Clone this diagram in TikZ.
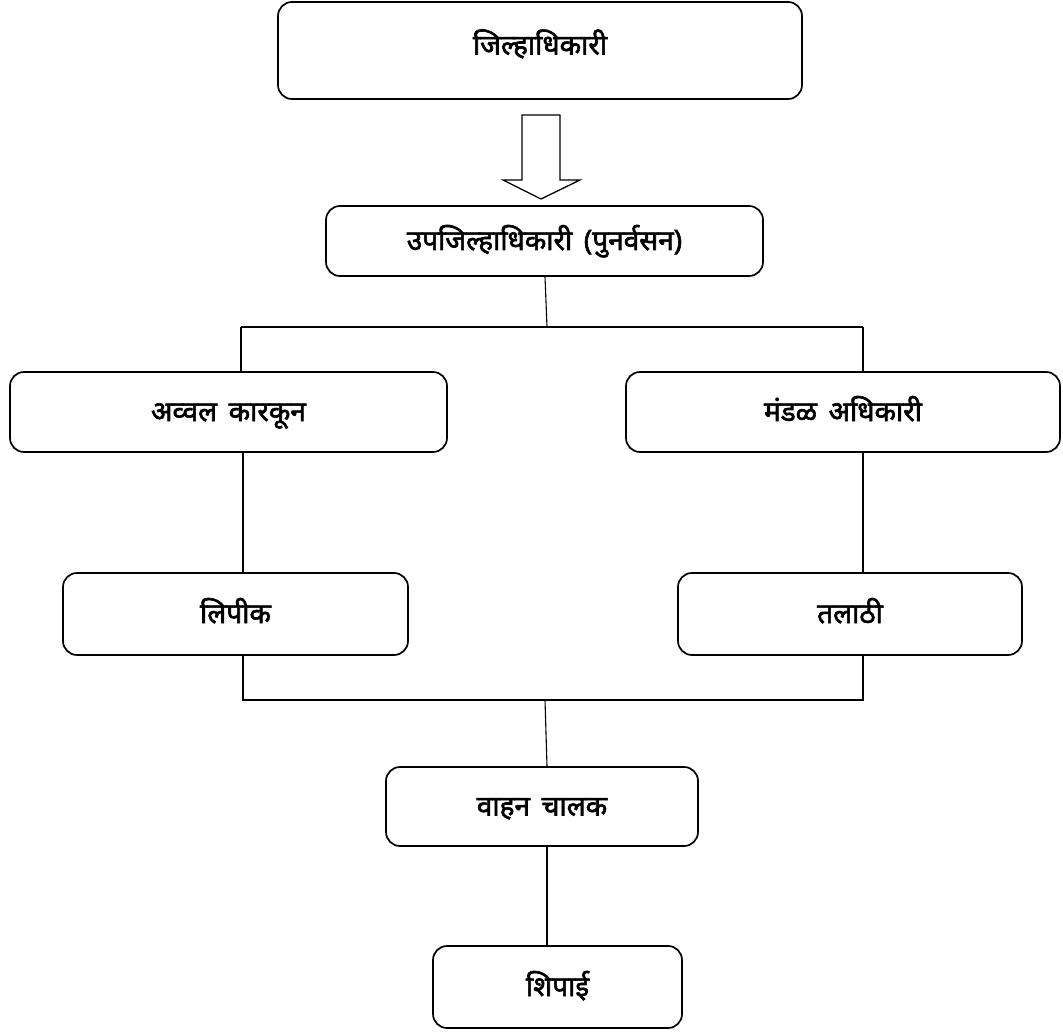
\documentclass[tikz,border=0pt]{standalone}
\usepackage{fontspec}
\newfontfamily\devfont[Script=Devanagari,FakeBold=2.2,WordSpace=1.6]{Noto Sans}
\usepackage{tikz}

\begin{document}
\begin{tikzpicture}[x=1pt,y=1pt,yscale=-1,xscale=1,
  officebox/.style={draw, line width=1.7pt, rounded corners=14pt, inner sep=0pt,
    text height=22pt, text depth=4pt,
    font=\devfont\fontsize{28}{32}\selectfont},
  link/.style={line width=1.1pt}]
\useasboundingbox (0,0) rectangle (1063,1032);

%Shape: Rounded Rect [id:jilha]
\node [officebox, text depth=14pt, minimum width=524pt, minimum height=97pt] (jilha) at (540,50.5) {जिल्हाधिकारी};
%Shape: Down Arrow [id:bigarrow]
\draw [line width=1.3pt] (522,115) -- (560,115) -- (560,180) -- (580,180) -- (541,199) -- (503,180) -- (522,180) -- cycle ;
%Shape: Rounded Rect [id:upjilha]
\node [officebox, minimum width=437pt, minimum height=70pt] (upjilha) at (544.5,241) {उपजिल्हाधिकारी (पुनर्वसन)};
%Shape: Rounded Rect [id:avval]
\node [officebox, minimum width=437pt, minimum height=80pt] (avval) at (228.5,412) {अव्वल कारकून};
%Shape: Rounded Rect [id:mandal]
\node [officebox, minimum width=434pt, minimum height=80pt] (mandal) at (843,412) {मंडळ अधिकारी};
%Shape: Rounded Rect [id:lipik]
\node [officebox, minimum width=345pt, minimum height=82pt] (lipik) at (235.5,614) {लिपीक};
%Shape: Rounded Rect [id:talathi]
\node [officebox, minimum width=344pt, minimum height=82pt] (talathi) at (850,614) {तलाठी};
%Shape: Rounded Rect [id:chalak]
\node [officebox, minimum width=312pt, minimum height=79pt] (chalak) at (542,806.5) {वाहन चालक};
%Shape: Rounded Rect [id:shipai]
\node [officebox, minimum width=249pt, minimum height=82pt] (shipai) at (557.5,987) {शिपाई};

% junctions
\coordinate (topmid) at (547,327);
\coordinate (topleft) at (241,327);
\coordinate (topright) at (863,327);
\coordinate (botmid) at (545,700);
\coordinate (botleft) at (243,700);
\coordinate (botright) at (863,700);

%Straight Lines [id:upper bus]
\draw [link] (upjilha.south -| 545,0) -- (topmid) ;
\draw [link] (topleft) -- (topright) ;
\draw [link] (topleft) -- (topleft |- avval.north) ;
\draw [link] (topright) -- (topright |- mandal.north) ;
%Straight Lines [id:down links]
\draw [link] (avval.south -| botleft) -- (lipik.north -| botleft) ;
\draw [link] (mandal.south -| botright) -- (talathi.north -| botright) ;
%Straight Lines [id:lower bus]
\draw [link] (lipik.south -| botleft) -- (botleft) -- (botright) -- (talathi.south -| botright) ;
\draw [link] (botmid) -- (chalak.north -| 547,0) ;
\draw [link] (chalak.south -| 547,0) -- (shipai.north -| 547,0) ;

\end{tikzpicture}
\end{document}
